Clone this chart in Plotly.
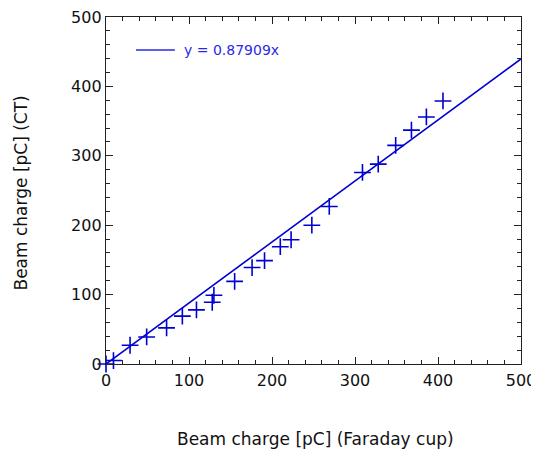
import plotly.graph_objects as go

# Data
faraday_pc = [0, 9, 29, 49, 73, 92, 109, 128, 130, 155, 176, 191, 210, 223, 248, 269,
              309, 328, 349, 368, 386, 406]
ct_pc = [0, 5, 27, 39, 52, 69, 78, 89, 99, 119, 139, 149, 169, 179, 200, 227,
         276, 288, 315, 337, 356, 379]
slope = 0.87909
fit_x = [0, 500]
fit_y = [slope * v for v in fit_x]
fit_label = "y = 0.87909x"
x_title = "Beam charge [pC] (Faraday cup)"
y_title = "Beam charge [pC] (CT)"

FONT = "DejaVu Sans"
BLUE = "#0000d0"
LEGEND_BLUE = "#2a2ae6"

fig = go.Figure()
fig.add_trace(go.Scatter(
    x=fit_x, y=fit_y, mode="lines", name=fit_label,
    line=dict(color=BLUE, width=1.6), showlegend=False,
))
fig.add_trace(go.Scatter(
    x=faraday_pc, y=ct_pc, mode="markers", showlegend=False,
    marker=dict(symbol="cross-thin", size=12, line=dict(color=BLUE, width=1.6)),
    cliponaxis=False,
))

axis_common = dict(
    range=[0, 500], dtick=100, ticks="inside", ticklen=7, tickwidth=1.3,
    tickcolor="#222", showline=True, linecolor="#222", linewidth=1.3,
    mirror="ticks", showgrid=False, zeroline=False, ticklabeloverflow="allow",
    tickfont=dict(family=FONT, size=16, color="#111"),
    minor=dict(dtick=20, ticks="inside", ticklen=4, tickwidth=1, tickcolor="#222"),
)

# legend sample (drawn manually so its line length matches the reference)
fig.add_shape(type="line", xref="paper", yref="paper",
              x0=0.0723, x1=0.166, y0=0.905, y1=0.905,
              line=dict(color=LEGEND_BLUE, width=1.6))

fig.update_layout(
    width=531, height=442,
    margin=dict(l=98, r=18, t=9, b=86, autoexpand=False),
    plot_bgcolor="white", paper_bgcolor="white",
    xaxis=dict(axis_common, ticklabelstandoff=2),
    yaxis=dict(axis_common),
    showlegend=False,
    annotations=[
        dict(text=fit_label, xref="paper", yref="paper", x=0.183, y=0.905,
             showarrow=False, xanchor="left", yanchor="middle",
             font=dict(family=FONT, size=14, color=LEGEND_BLUE)),
        dict(text=x_title, xref="paper", yref="paper", x=0.5, y=0, yshift=-75,
             xshift=2, showarrow=False, xanchor="center", yanchor="middle",
             font=dict(family=FONT, size=17, color="#111")),
        dict(text=y_title, xref="paper", yref="paper", x=0, y=0.5, xshift=-86,
             yshift=-3, showarrow=False, xanchor="center", yanchor="middle",
             textangle=-90, font=dict(family=FONT, size=17, color="#111")),
    ],
)

fig.write_html("out.html")
